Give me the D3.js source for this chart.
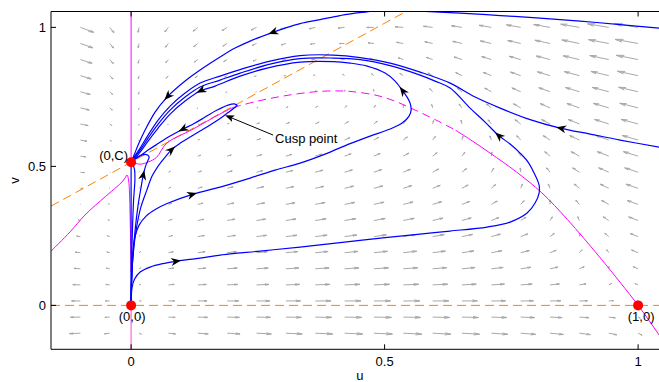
<!DOCTYPE html>
<html>
<head>
<meta charset="utf-8">
<script src="https://cdn.jsdelivr.net/npm/d3@7"></script>
<style>
  body { margin: 0; background: #fff; }
  svg { display: block; }
  text { font-family: "Liberation Sans", Arial, Helvetica, sans-serif; font-size: 13px; fill: #000; }
</style>
</head>
<body>
<svg id="chart" width="659" height="382"></svg>
<script>
// ---- axis setup ----
const xTicks = [0, 0.5, 1];
const yTicks = [0, 0.5, 1];
const xTickLabels = ["0", "0.5", "1"];
const yTickLabels = ["0", "0.5", "1"];
const xDomain = [-0.158, 1.06];
const yDomain = [-0.158, 1.057];

// ---- model: prey u, predator v ----
const C = 0.515;          // predator intercept, equilibrium (0,C)
const pA = 0.513;         // predation rate
const pB = 0.267;         // half-saturation
const pS = 0.23;          // predator growth rate
const quiverGrid = d3.range(20).map(i => -0.1 + i * 1.1 / 19);
const arrowPow = 0.75;    // length compression of the direction field

// equilibria and labels
const equilibria = [
  { u: 0, v: 0, label: "(0,0)", dx: 1, dy: 16, anchor: "middle" },
  { u: 0, v: C, label: "(0,C)", dx: -3, dy: -2, anchor: "end" },
  { u: 1, v: 0, label: "(1,0)", dx: 3, dy: 16, anchor: "middle" }
];

// ---- nullclines ----
const vNullDiag = [[-0.158, C - 0.158], [1.057 - C, 1.057]];   // v = u + C
const vNullZero = [[-0.158, 0], [1.06, 0]];                    // v = 0
const uNullAxisTop = [[0, C], [0, 1.06]];
const uNullAxisBottom = [[0, 0], [0, -0.16]];
const uNullLeft = [[-0.158, 0.195], [-0.12, 0.265], [-0.091, 0.325], [-0.051, 0.391], [-0.028, 0.427],
  [-0.018, 0.444], [-0.012, 0.458], [-0.008, 0.469], [-0.005, 0.451], [-0.003, 0.397],
  [-0.002, 0.325], [-0.001, 0.235], [0, 0.12]];
const uNullInner = [[0, C], [0.018, 0.508], [0.034, 0.516], [0.05, 0.532], [0.07, 0.583],
  [0.12, 0.632], [0.175, 0.688], [0.201, 0.712]];
const uNullDashed = [[0.201, 0.712], [0.25, 0.735], [0.3, 0.753], [0.35, 0.766], [0.387, 0.771],
  [0.43, 0.77], [0.485, 0.755], [0.52, 0.735], [0.556, 0.706], [0.6, 0.668], [0.64, 0.63]];
const uNullSolid = [[0.64, 0.63], [0.67, 0.595], [0.708, 0.548], [0.76, 0.48], [0.81, 0.405],
  [0.86, 0.31], [0.928, 0.165], [1.0, 0.0], [1.039, -0.1], [1.06, -0.155]];

// ---- trajectories ----
const traj1 = [[1.059, 0.994], [1.041, 0.9975], [0.9645, 1.010], [0.8856, 1.0227], [0.8067, 1.0335],
  [0.7278, 1.0424], [0.6489, 1.0514], [0.5897, 1.0565], [0.5306, 1.0622], [0.501, 1.064],
  [0.4773, 1.058], [0.4418, 1.0514], [0.4122, 1.0424], [0.3728, 1.028], [0.3333, 1.0137],
  [0.3037, 0.9975], [0.2781, 0.9813], [0.2347, 0.9507], [0.2051, 0.9255], [0.1755, 0.8932],
  [0.1361, 0.8464], [0.1065, 0.8068], [0.0710, 0.7493], [0.0473, 0.6953], [0.0276, 0.6306],
  [0.0138, 0.5766], [0.0059, 0.5406], [0, C]];
const traj2 = [[1.0592, 0.5633], [1.0414, 0.5694], [0.9645, 0.5946], [0.9053, 0.6162], [0.8462, 0.6378],
  [0.787, 0.6683], [0.7278, 0.7097], [0.6785, 0.7493], [0.6292, 0.7996], [0.5700, 0.8392],
  [0.5108, 0.8716], [0.4517, 0.8914], [0.3984, 0.9004], [0.3333, 0.8986], [0.2742, 0.8788],
  [0.2150, 0.8482], [0.1755, 0.8248], [0.1361, 0.7996], [0.1065, 0.7637], [0.0769, 0.7169],
  [0.0533, 0.6665], [0.0335, 0.6126], [0.0178, 0.5658], [0.0059, 0.5334], [0, C]];
const traj3 = [[0, 0], [0.0006, 0.037], [0.002, 0.0658], [0.0069, 0.0946], [0.0178, 0.1198],
  [0.0375, 0.1378], [0.0631, 0.1504], [0.0907, 0.1594], [0.1361, 0.1701], [0.1755, 0.1809],
  [0.2544, 0.1953], [0.3333, 0.2097], [0.4122, 0.2259], [0.5010, 0.2439], [0.5700, 0.2565],
  [0.6292, 0.2673], [0.7022, 0.2817], [0.7475, 0.2996], [0.7811, 0.3320], [0.7968, 0.3680],
  [0.8047, 0.4040], [0.8047, 0.4327], [0.7968, 0.4687], [0.7830, 0.5155], [0.7673, 0.5478],
  [0.7475, 0.5802], [0.7239, 0.6126], [0.6982, 0.6594], [0.6686, 0.7097], [0.6292, 0.7817],
  [0.5996, 0.8068], [0.5700, 0.8284], [0.5108, 0.8626], [0.4517, 0.8842], [0.3984, 0.8896],
  [0.3333, 0.8878], [0.2742, 0.8680], [0.2150, 0.8356], [0.1755, 0.8104], [0.1361, 0.7853],
  [0.1065, 0.7493], [0.0769, 0.7025], [0.0533, 0.6522], [0.0335, 0.6018], [0.0178, 0.5586],
  [0.0059, 0.5299], [0, C]];
const traj4 = [[0, 0], [0.0006, 0.055], [0.002, 0.127], [0.0039, 0.1989], [0.0079, 0.2493],
  [0.0158, 0.2888], [0.0296, 0.3212], [0.0493, 0.3464], [0.0710, 0.3662], [0.1223, 0.4004],
  [0.1755, 0.4255], [0.2347, 0.4579], [0.2840, 0.4867], [0.3333, 0.5119], [0.3826, 0.5442],
  [0.4320, 0.5820], [0.4714, 0.6090], [0.5108, 0.6342], [0.5345, 0.6558], [0.5483, 0.6809],
  [0.5523, 0.7025], [0.5503, 0.7277], [0.5444, 0.7493], [0.5345, 0.7745], [0.5207, 0.8068],
  [0.5010, 0.8356], [0.4655, 0.8608], [0.4320, 0.8716], [0.3984, 0.8770], [0.3333, 0.8752],
  [0.2682, 0.8536], [0.2150, 0.8248], [0.1657, 0.7889], [0.1361, 0.7709], [0.1065, 0.7349],
  [0.0769, 0.6881], [0.0533, 0.6378], [0.0335, 0.5910], [0.0178, 0.5514], [0.0059, 0.5263], [0, C]];
const traj5 = [[0, 0], [0.0006, 0.073], [0.003, 0.163], [0.0079, 0.2709], [0.0138, 0.3608],
  [0.0197, 0.4255], [0.0243, 0.4723], [0.0286, 0.5011], [0.0335, 0.5227], [0.0355, 0.5335],
  [0.0325, 0.5407], [0.0237, 0.5424], [0.0138, 0.5353], [0.0059, 0.5245], [0, C]];
const traj6 = [[0, 0], [0.001, 0.091], [0.0039, 0.1809], [0.0099, 0.2709], [0.0187, 0.35],
  [0.031, 0.4147], [0.0414, 0.4651], [0.0533, 0.5011], [0.0671, 0.5335], [0.0809, 0.5622],
  [0.0986, 0.5856], [0.1164, 0.6054], [0.1361, 0.6270], [0.1558, 0.6486], [0.1755, 0.6719],
  [0.1913, 0.6935], [0.2032, 0.7097], [0.2091, 0.7187], [0.2051, 0.7241], [0.1913, 0.7205],
  [0.1696, 0.7025], [0.1460, 0.6773], [0.1243, 0.6540], [0.1006, 0.6324], [0.0769, 0.6090],
  [0.0533, 0.5820], [0.0335, 0.5586], [0.0158, 0.5353], [0.0059, 0.5227], [0, C]];
const traj7 = [[0, 0], [0.0006, 0.127], [0.0026, 0.2709], [0.0049, 0.3788], [0.0075, 0.4507],
  [0.0069, 0.4867], [0.0039, 0.5047], [0, C]];
const trajAxis = [[0, 0], [0, C]];
const trajectories = [traj1, traj2, traj3, traj4, traj5, traj6, traj7, trajAxis];

// direction markers: trajectory index and location
const flowMarks = [
  { t: 0, u: 0.2781, v: 0.9813 }, { t: 0, u: 0.0710, v: 0.7493 },
  { t: 1, u: 0.8462, v: 0.6378 },
  { t: 2, u: 0.7239, v: 0.6126 }, { t: 2, u: 0.0907, v: 0.1594 },
  { t: 3, u: 0.1223, v: 0.4004 }, { t: 3, u: 0.5345, v: 0.7745 }, { t: 3, u: 0.132, v: 0.765 },
  { t: 4, u: 0.0243, v: 0.4723 },
  { t: 5, u: 0.0809, v: 0.5622 }, { t: 5, u: 0.1006, v: 0.6324 }
];

// cusp annotation
const cuspTip = [0.1855, 0.684];
const cuspTail = [0.2801, 0.6126];
const cuspText = "Cusp point";

// ---- drawing ----
const svg = d3.select("#chart");
const pLeft = 51, pTop = 11.5, pBottom = 349.3;
const x = d3.scaleLinear().domain(xDomain).range([pLeft, pLeft + (xDomain[1] - xDomain[0]) * 507]);
const y = d3.scaleLinear().domain(yDomain).range([pBottom, pBottom - (yDomain[1] - yDomain[0]) * 278]);
const pRight = x(xDomain[1]);

svg.append("defs").append("clipPath").attr("id", "plotClip")
  .append("rect").attr("x", pLeft).attr("y", pTop).attr("width", pRight - pLeft).attr("height", pBottom - pTop);

const plot = svg.append("g").attr("clip-path", "url(#plotClip)");

// direction field
function field(u, v) {
  return [u * (1 - u) - pA * u * v / (u + pB), pS * v * (u + C - v)];
}
const cells = [];
quiverGrid.forEach(gu => quiverGrid.forEach(gv => {
  const f = field(gu, gv);
  cells.push({ u: gu, v: gv, f, m: Math.hypot(f[0], f[1]) });
}));
const mMax = d3.max(cells, d => d.m);
const lMax = 25 / 507;
const hA = 0.33, hB = 0.33;
const qPath = d3.path();
cells.forEach(c => {
  if (c.m === 0) return;
  const L = lMax * Math.pow(c.m / mMax, arrowPow);
  const du = L * c.f[0] / c.m, dv = L * c.f[1] / c.m;
  const tu = c.u + du, tv = c.v + dv;
  qPath.moveTo(x(c.u), y(c.v));
  qPath.lineTo(x(tu), y(tv));
  qPath.moveTo(x(tu - hA * (du + hB * dv)), y(tv - hA * (dv - hB * du)));
  qPath.lineTo(x(tu), y(tv));
  qPath.lineTo(x(tu - hA * (du - hB * dv)), y(tv - hA * (dv + hB * du)));
});
plot.append("path").attr("d", qPath.toString())
  .attr("fill", "none").attr("stroke", "#a8a8a8").attr("stroke-width", 1);

const straight = d3.line().x(d => x(d[0])).y(d => y(d[1]));
const smooth = d3.line().x(d => x(d[0])).y(d => y(d[1])).curve(d3.curveCatmullRom.alpha(0.5));

// v-nullclines
[vNullZero, vNullDiag].forEach(seg => plot.append("path").attr("d", straight(seg))
  .attr("fill", "none").attr("stroke", "#ff8000").attr("stroke-width", 1).attr("stroke-dasharray", "9,5"));

// u-nullclines
plot.append("path").attr("d", straight(uNullAxisTop)).attr("fill", "none").attr("stroke", "#ff00ff").attr("stroke-width", 1);
plot.append("path").attr("d", straight(uNullAxisBottom)).attr("fill", "none").attr("stroke", "#ff70d8").attr("stroke-width", 1.3);
[uNullLeft, uNullInner, uNullSolid].forEach(seg => plot.append("path").attr("d", smooth(seg))
  .attr("fill", "none").attr("stroke", "#ff00ff").attr("stroke-width", 1));
plot.append("path").attr("d", smooth(uNullDashed)).attr("fill", "none").attr("stroke", "#ff00ff")
  .attr("stroke-width", 1).attr("stroke-dasharray", "8,5");

// trajectories
trajectories.forEach(tr => plot.append("path").attr("d", smooth(tr))
  .attr("fill", "none").attr("stroke", "#0000ff").attr("stroke-width", 1.2));

// flow direction heads
function headPath(px, py, ang, len, half, notch) {
  const c = Math.cos(ang), s = Math.sin(ang);
  const pt = (a, b) => [px + a * c - b * s, py + a * s + b * c];
  const p1 = pt(0, 0), p2 = pt(-len, half), p3 = pt(-len + notch, 0), p4 = pt(-len, -half);
  return `M${p1}L${p2}L${p3}L${p4}Z`;
}
flowMarks.forEach(m => {
  const tr = trajectories[m.t];
  let best = 0, bd = Infinity;
  for (let i = 0; i < tr.length - 1; i++) {
    const d = Math.hypot(x(tr[i][0]) - x(m.u), y(tr[i][1]) - y(m.v));
    if (d < bd) { bd = d; best = i; }
  }
  const a = tr[Math.max(0, best - 1)], b = tr[Math.min(tr.length - 1, best + 1)];
  const ang = Math.atan2(y(b[1]) - y(a[1]), x(b[0]) - x(a[0]));
  const px = x(tr[best][0]), py = y(tr[best][1]);
  plot.append("path").attr("d", headPath(px + 4 * Math.cos(ang), py + 4 * Math.sin(ang), ang, 10, 4, 3)).attr("fill", "#000");
});

// cusp annotation
{
  const x1 = x(cuspTail[0]), y1 = y(cuspTail[1]), x2 = x(cuspTip[0]), y2 = y(cuspTip[1]);
  const ang = Math.atan2(y2 - y1, x2 - x1);
  svg.append("line").attr("x1", x1).attr("y1", y1).attr("x2", x2 - 6 * Math.cos(ang)).attr("y2", y2 - 6 * Math.sin(ang))
    .attr("stroke", "#000").attr("stroke-width", 1);
  svg.append("path").attr("d", headPath(x2, y2, ang, 9, 3.5, 2)).attr("fill", "#000");
  svg.append("text").attr("x", x1 + 2).attr("y", y1 + 8).text(cuspText);
}

// equilibria
equilibria.forEach(e => {
  svg.append("circle").attr("cx", x(e.u)).attr("cy", y(e.v)).attr("r", 5).attr("fill", "#ff0000");
  svg.append("text").attr("x", x(e.u) + e.dx).attr("y", y(e.v) + e.dy)
    .attr("text-anchor", e.anchor).text(e.label);
});

// axes box and ticks
const ax = svg.append("g").attr("stroke", "#000").attr("stroke-width", 1).attr("fill", "none");
ax.append("path").attr("d", `M${pRight},${pTop}H${pLeft}V${pBottom}H${pRight}`);
xTicks.forEach(t => {
  ax.append("line").attr("x1", x(t)).attr("x2", x(t)).attr("y1", pBottom).attr("y2", pBottom - 5);
  ax.append("line").attr("x1", x(t)).attr("x2", x(t)).attr("y1", pTop).attr("y2", pTop + 5);
});
yTicks.forEach(t => ax.append("line").attr("x1", pLeft).attr("x2", pLeft + 5).attr("y1", y(t)).attr("y2", y(t)));

xTicks.forEach((t, i) => svg.append("text").attr("x", x(t)).attr("y", pBottom + 17)
  .attr("text-anchor", "middle").text(xTickLabels[i]));
yTicks.forEach((t, i) => svg.append("text").attr("x", pLeft - 5).attr("y", y(t) + 4.5)
  .attr("text-anchor", "end").text(yTickLabels[i]));

svg.append("text").attr("x", (pLeft + pRight) / 2).attr("y", 379.5).attr("text-anchor", "middle").text("u");
svg.append("text").attr("transform", `translate(19,${(pTop + pBottom) / 2}) rotate(-90)`)
  .attr("text-anchor", "middle").text("v");
</script>
</body>
</html>
